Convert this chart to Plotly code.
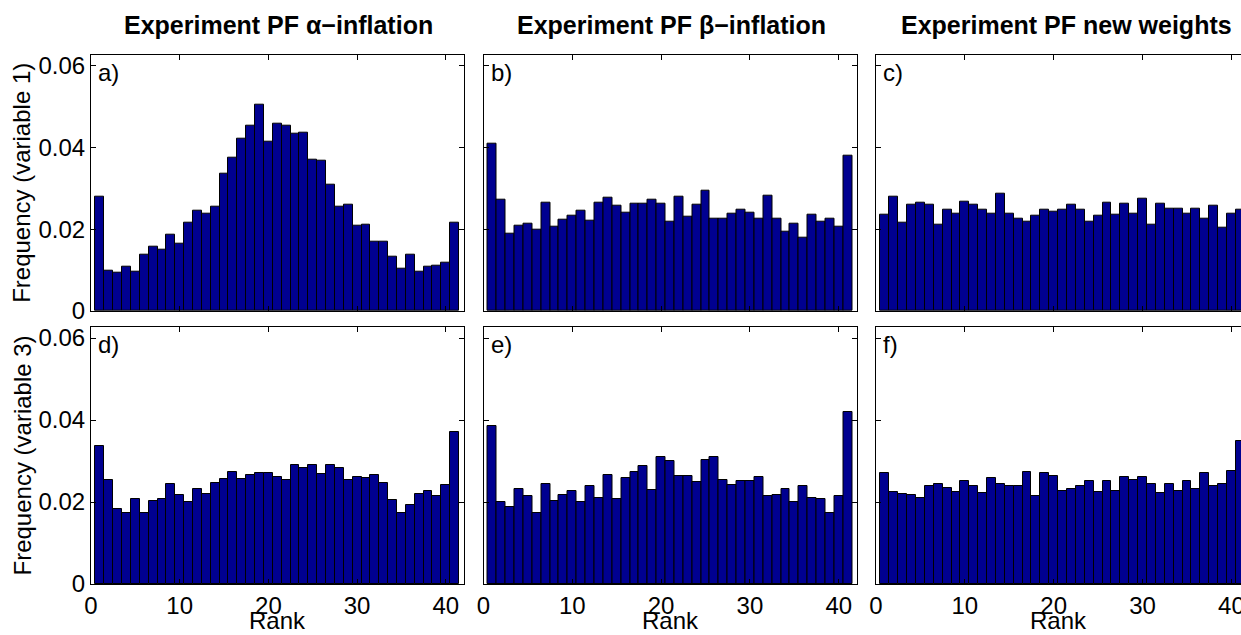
import plotly.graph_objects as go
from plotly.subplots import make_subplots

# Rank histogram bins 1..41
ranks = list(range(1, 42))

# Variable 1 rank frequencies
var1_alpha = [0.0279, 0.0099, 0.0093, 0.0108, 0.0095, 0.0137, 0.0157, 0.0149, 0.0186, 0.0165,
              0.0216, 0.0245, 0.0239, 0.0255, 0.0336, 0.0376, 0.0421, 0.0453, 0.0504, 0.0415,
              0.0458, 0.0453, 0.0433, 0.0435, 0.0371, 0.0367, 0.0308, 0.0255, 0.0261, 0.0209,
              0.0211, 0.0170, 0.0170, 0.0133, 0.0103, 0.0137, 0.0095, 0.0108, 0.0112, 0.0119,
              0.0216]
var1_beta = [0.0409, 0.0272, 0.0188, 0.0209, 0.0213, 0.0199, 0.0265, 0.0207, 0.0224, 0.0234,
             0.0245, 0.0220, 0.0265, 0.0276, 0.0257, 0.0241, 0.0262, 0.0262, 0.0272, 0.0262,
             0.0218, 0.0280, 0.0230, 0.0259, 0.0294, 0.0227, 0.0227, 0.0239, 0.0248, 0.0241,
             0.0227, 0.0283, 0.0227, 0.0194, 0.0213, 0.0179, 0.0236, 0.0218, 0.0227, 0.0207,
             0.0380]
var1_new = [0.0236, 0.0280, 0.0216, 0.0261, 0.0265, 0.0259, 0.0210, 0.0248, 0.0239, 0.0268,
            0.0261, 0.0248, 0.0238, 0.0288, 0.0238, 0.0226, 0.0218, 0.0234, 0.0249, 0.0242,
            0.0248, 0.0259, 0.0248, 0.0218, 0.0234, 0.0265, 0.0236, 0.0262, 0.0239, 0.0274,
            0.0211, 0.0262, 0.0251, 0.0251, 0.0238, 0.0251, 0.0226, 0.0257, 0.0204, 0.0239,
            0.0248]

# Variable 3 rank frequencies
var3_alpha = [0.0336, 0.0253, 0.0184, 0.0173, 0.0207, 0.0173, 0.0203, 0.0208, 0.0243, 0.0216,
              0.0199, 0.0232, 0.0219, 0.0247, 0.0256, 0.0273, 0.0255, 0.0267, 0.0272, 0.0272,
              0.0262, 0.0253, 0.0291, 0.0284, 0.0291, 0.0268, 0.0291, 0.0282, 0.0253, 0.0261,
              0.0259, 0.0267, 0.0247, 0.0205, 0.0173, 0.0193, 0.0220, 0.0228, 0.0214, 0.0241,
              0.0372]
var3_beta = [0.0385, 0.0199, 0.0189, 0.0232, 0.0214, 0.0173, 0.0244, 0.0203, 0.0218, 0.0226,
             0.0201, 0.0238, 0.0211, 0.0267, 0.0207, 0.0258, 0.0273, 0.0288, 0.0230, 0.0311,
             0.0299, 0.0264, 0.0264, 0.0249, 0.0303, 0.0311, 0.0254, 0.0241, 0.0251, 0.0252,
             0.0260, 0.0214, 0.0216, 0.0232, 0.0199, 0.0238, 0.0211, 0.0207, 0.0174, 0.0214,
             0.0420]
var3_new = [0.0272, 0.0225, 0.0220, 0.0218, 0.0210, 0.0238, 0.0245, 0.0235, 0.0225, 0.0251,
            0.0240, 0.0223, 0.0258, 0.0243, 0.0240, 0.0240, 0.0273, 0.0214, 0.0270, 0.0264,
            0.0227, 0.0232, 0.0240, 0.0251, 0.0225, 0.0251, 0.0227, 0.0260, 0.0253, 0.0262,
            0.0243, 0.0223, 0.0243, 0.0227, 0.0251, 0.0232, 0.0272, 0.0240, 0.0245, 0.0276,
            0.0349]

titles = ["Experiment PF \u03b1\u2212inflation", "Experiment PF \u03b2\u2212inflation",
          "Experiment PF new weights"]
panel_tags = ["a)", "b)", "c)", "d)", "e)", "f)"]
row_labels = ["Frequency (variable 1)", "Frequency (variable 3)"]
y_ticks = [0, 0.02, 0.04, 0.06]
y_tick_text = ["0", "0.02", "0.04", "0.06"]
x_ticks = [0, 10, 20, 30, 40]

series = [[var1_alpha, var1_beta, var1_new], [var3_alpha, var3_beta, var3_new]]

W, H = 1241, 635
FONT = "Liberation Sans, Arial, Helvetica, sans-serif"
FS = 24
BAR = "#000090"

# pixel layout of the panel grid (the right column runs off the page edge)
col_px = [(91, 463.5), (483.5, 856.5), (876, 1241)]
col_xmax = [42, 42, 41.08]
title_cx = [278, 671, 1066]
row_px = [(54.7, 311), (327, 584)]

fig = make_subplots(rows=2, cols=3)

for r in range(2):
    for c in range(3):
        fig.add_trace(go.Bar(
            x=ranks, y=series[r][c], width=1,
            marker=dict(color=BAR, line=dict(color="black", width=1)),
            showlegend=False, hoverinfo="x+y",
        ), row=r + 1, col=c + 1)

        idx = r * 3 + c + 1
        xa = "xaxis" if idx == 1 else f"xaxis{idx}"
        ya = "yaxis" if idx == 1 else f"yaxis{idx}"
        x0, x1 = col_px[c]
        y0, y1 = row_px[r]
        fig.layout[xa].update(
            domain=[x0 / W, x1 / W], range=[0, col_xmax[c]], automargin=False,
            tickvals=x_ticks, showticklabels=(r == 1), ticklabeloverflow="allow",
            ticks="inside", ticklen=5, tickcolor="black", tickwidth=1,
            showline=True, linecolor="black", linewidth=1, mirror="ticks",
            showgrid=False, zeroline=False,
            tickfont=dict(family=FONT, size=FS, color="black"),
        )
        fig.layout[ya].update(
            domain=[1 - y1 / H, 1 - y0 / H], range=[0, 0.0627], automargin=False,
            tickvals=y_ticks, ticktext=y_tick_text, showticklabels=(c == 0),
            ticks="inside", ticklen=5, tickcolor="black", tickwidth=1,
            showline=True, linecolor="black", linewidth=1,
            mirror=("ticks" if c < 2 else False),
            showgrid=False, zeroline=False,
            tickfont=dict(family=FONT, size=FS, color="black"),
        )
        xd = "x domain" if idx == 1 else f"x{idx} domain"
        yd = "y domain" if idx == 1 else f"y{idx} domain"
        fig.add_annotation(
            text=panel_tags[idx - 1], xref=xd, yref=yd, x=0, y=1,
            xshift=5, yshift=-2, xanchor="left", yanchor="top", showarrow=False,
            font=dict(family=FONT, size=FS, color="black"),
        )
        if r == 0:
            fig.add_annotation(
                text=f"<b>{titles[c]}</b>", xref="paper", yref="paper",
                x=title_cx[c] / W, y=1 - 25 / H, xanchor="center", yanchor="middle",
                showarrow=False, font=dict(family=FONT, size=25, color="black"),
            )
        else:
            fig.add_annotation(
                text="Rank", xref=xd, yref="paper",
                x=0.5, y=0, xanchor="center", yanchor="bottom", borderpad=0,
                showarrow=False, font=dict(family=FONT, size=FS, color="black"),
            )
    fig.add_annotation(
        text=row_labels[r], xref="paper", yref="paper",
        x=22 / W, y=1 - (row_px[r][0] + row_px[r][1]) / 2 / H,
        xanchor="center", yanchor="middle", textangle=-90, showarrow=False,
        font=dict(family=FONT, size=FS, color="black"),
    )

fig.update_layout(
    width=W, height=H, margin=dict(l=0, r=0, t=0, b=0, autoexpand=False),
    plot_bgcolor="white", paper_bgcolor="white", bargap=0,
)

fig.write_html("out.html")
